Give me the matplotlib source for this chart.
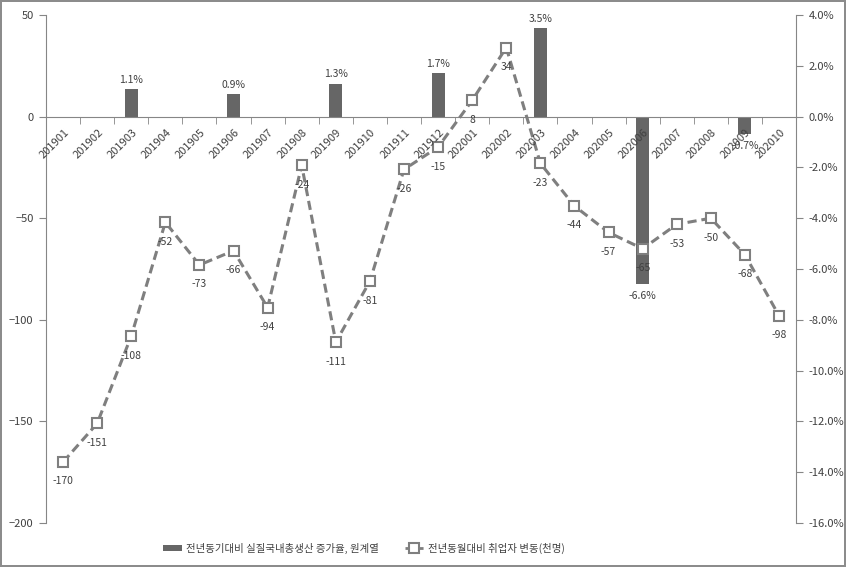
import matplotlib.pyplot as plt
from matplotlib.lines import Line2D
from matplotlib.patches import Patch
import numpy as np

plt.rcParams['font.family'] = ['Noto Sans CJK KR', 'DejaVu Sans']

# 월별 범주
months = ['201901', '201902', '201903', '201904', '201905', '201906',
          '201907', '201908', '201909', '201910', '201911', '201912',
          '202001', '202002', '202003', '202004', '202005', '202006',
          '202007', '202008', '202009', '202010']

# 전년동월대비 취업자 변동(천명)
jobs = [-170, -151, -108, -52, -73, -66, -94, -24, -111, -81, -26, -15,
        8, 34, -23, -44, -57, -65, -53, -50, -68, -98]

# 분기별 실질 GDP 증가율(%) - 분기 마지막 달에만 값이 있음
gdp_months = ['201903', '201906', '201909', '201912', '202003', '202006', '202009']
gdp_growth = [1.1, 0.9, 1.3, 1.7, 3.5, -6.6, -0.7]

bar_label = '전년동기대비 실질국내총생산 증가율, 원계열'
line_label = '전년동월대비 취업자 변동(천명)'

text_color = '#404040'
axis_color = '#868686'
bar_color = '#666666'
line_color = '#7f7f7f'

fig = plt.figure(figsize=(8.46, 5.67), dpi=100)
fig.patch.set_edgecolor('#8c8c8c')
fig.patch.set_linewidth(1.5)

ax = fig.add_axes([0.0544, 0.0776, 0.8866, 0.8959])
ax2 = ax.twinx()

x = np.arange(len(months))
gdp_x = [months.index(m) for m in gdp_months]

# 막대 (오른쪽 축)
ax2.bar(gdp_x, gdp_growth, width=0.38, color=bar_color, zorder=2)
for xi, v in zip(gdp_x, gdp_growth):
    if v >= 0:
        ax2.annotate(f'{v:.1f}%', (xi, v), xytext=(0, 3), textcoords='offset points',
                     ha='center', va='bottom', fontsize=7.5, color=text_color)
    else:
        ax2.annotate(f'{v:.1f}%', (xi, v), xytext=(0, -5), textcoords='offset points',
                     ha='center', va='top', fontsize=7.5, color=text_color)

# 선 (왼쪽 축) - 막대 위에 그림
ax.set_zorder(ax2.get_zorder() + 1)
ax.patch.set_visible(False)
ax.plot(x, jobs, color=line_color, linestyle=(0, (3, 1.6)), linewidth=2.2,
        marker='s', markersize=7, markerfacecolor='white',
        markeredgecolor=line_color, markeredgewidth=1.5, zorder=3)
for xi, v in zip(x, jobs):
    ax.annotate(f'{v}', (xi, v), xytext=(0, -14), textcoords='offset points',
                ha='center', va='center', fontsize=7.5, color=text_color)

# 축 범위 및 눈금
ax.set_xlim(-0.5, len(months) - 0.5)
ax.set_ylim(-200, 50)
ax.set_yticks(range(-200, 51, 50))
ax2.set_ylim(-16, 4)
ax2.set_yticks(range(-16, 5, 2))
ax2.set_yticklabels([f'{t:.1f}%' for t in range(-16, 5, 2)])

for a in (ax, ax2):
    a.tick_params(axis='y', labelsize=8, colors=text_color, length=5,
                  color=axis_color, pad=4)
    for s in a.spines.values():
        s.set_color(axis_color)
    a.spines['top'].set_visible(False)

ax.spines['right'].set_visible(False)
ax2.spines['left'].set_visible(False)
ax2.spines['bottom'].set_visible(False)

# 가로축은 0 위치에
ax.spines['bottom'].set_position(('data', 0))
ax.set_xticks(x)
ax.set_xticklabels([])
ax.set_xticks(np.arange(-0.5, len(months), 1), minor=True)
ax.tick_params(axis='x', which='major', length=0)
ax.tick_params(axis='x', which='minor', length=5, color=axis_color)
for xi, m in zip(x, months):
    ax.annotate(m, (xi, 0), xytext=(3, -10), textcoords='offset points',
                rotation=45, rotation_mode='anchor', ha='right', va='center',
                fontsize=8, color=text_color)

# 범례
handles = [Patch(facecolor=bar_color, edgecolor='none'),
           Line2D([], [], color=line_color, linestyle=(0, (1.5, 1)), linewidth=2,
                  marker='s', markersize=7, markerfacecolor='white',
                  markeredgecolor=line_color, markeredgewidth=1.5)]
fig.legend(handles, [bar_label, line_label], loc='center', bbox_to_anchor=(0.43, 0.033),
           ncol=2, frameon=False, fontsize=7.5, labelcolor=text_color,
           columnspacing=2.5, handlelength=1.8, handletextpad=0.4, handleheight=0.5)

fig.savefig('out.png', dpi=100)
